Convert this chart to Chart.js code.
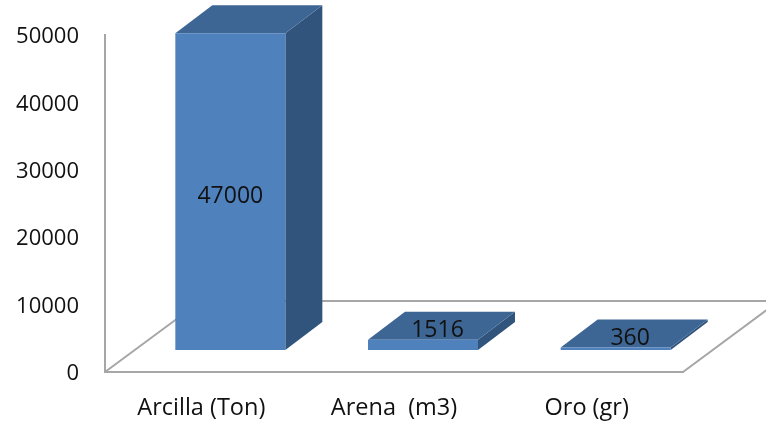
<!DOCTYPE html>
<html lang="es">
<head>
<meta charset="utf-8">
<title>Producción</title>
<style>
  html, body { margin: 0; padding: 0; background: #fff; }
  canvas { display: block; }
</style>
<script src="https://cdn.jsdelivr.net/npm/chart.js@4"></script>
</head>
<body>
<canvas id="grafico" width="766" height="424"></canvas>
<script>
const categories = ['Arcilla (Ton)', 'Arena  (m3)', 'Oro (gr)'];
const values = [47000, 1516, 360];
const valueLabels = ['47000', '1516', '360'];
const yTicks = [0, 10000, 20000, 30000, 40000, 50000];

// perspectiva: desplazamiento del suelo y profundidad de las barras
const FLOOR = { dx: 96, dy: 71 };
const BAR_SHIFT = { dx: 29, dy: 22 };
const BAR_DEPTH = { dx: 37, dy: 28 };

const FONT_FAMILY = 'Open Sans';
const COL_TEXT = '#111';
const COL_FRONT = '#4F81BD';
const COL_TOP = '#3D6695';
const COL_SIDE = '#31547D';
const COL_AXIS = '#A6A6A6';

function poly(ctx, pts, fill) {
    ctx.beginPath();
    pts.forEach((p, i) => i ? ctx.lineTo(p[0], p[1]) : ctx.moveTo(p[0], p[1]));
    ctx.closePath();
    ctx.fillStyle = fill;
    ctx.fill();
}

// suelo en perspectiva y caras superior/lateral de cada barra
const depthPlugin = {
    id: 'depth',
    beforeDatasetsDraw(chart) {
        const { ctx, chartArea: a } = chart;
        ctx.save();
        ctx.strokeStyle = COL_AXIS;
        ctx.lineWidth = 2;
        ctx.beginPath();
        ctx.moveTo(a.left, a.bottom);
        ctx.lineTo(a.left + FLOOR.dx, a.bottom - FLOOR.dy);
        ctx.moveTo(a.right, a.bottom);
        ctx.lineTo(a.right + FLOOR.dx, a.bottom - FLOOR.dy);
        ctx.moveTo(a.left + FLOOR.dx, a.bottom - FLOOR.dy);
        ctx.lineTo(a.right + FLOOR.dx, a.bottom - FLOOR.dy);
        ctx.stroke();

        chart.getDatasetMeta(0).data.forEach(bar => {
            const l = bar.x - bar.width / 2 + BAR_SHIFT.dx;
            const r = bar.x + bar.width / 2 + BAR_SHIFT.dx;
            const t = bar.y - BAR_SHIFT.dy;
            const b = bar.base - BAR_SHIFT.dy;
            const dx = BAR_DEPTH.dx, dy = BAR_DEPTH.dy;
            poly(ctx, [[r, t], [r + dx, t - dy], [r + dx, b - dy], [r, b]], COL_SIDE);
            poly(ctx, [[l, t], [l + dx, t - dy], [r + dx, t - dy], [r, t]], COL_TOP);
        });
        ctx.restore();
    },
    beforeDatasetDraw(chart) {
        chart.ctx.save();
        chart.ctx.translate(BAR_SHIFT.dx, -BAR_SHIFT.dy);
    },
    afterDatasetDraw(chart) {
        chart.ctx.restore();
    },
    // etiquetas de valor: en la cara frontal si cabe, si no en la superior
    afterDatasetsDraw(chart) {
        const { ctx } = chart;
        ctx.save();
        ctx.font = '23px "' + FONT_FAMILY + '"';
        ctx.fillStyle = COL_TEXT;
        ctx.textAlign = 'center';
        ctx.textBaseline = 'middle';
        chart.getDatasetMeta(0).data.forEach((bar, i) => {
            const h = bar.base - bar.y;
            let x = bar.x + BAR_SHIFT.dx;
            let y = bar.y - BAR_SHIFT.dy;
            if (h > 30) {
                y += h / 2 + 5;
            } else {
                x += BAR_DEPTH.dx / 2 - 4;
                y -= BAR_DEPTH.dy / 2 - 5;
            }
            ctx.fillText(valueLabels[i], x, y);
        });
        ctx.restore();
    }
};

new Chart(document.getElementById('grafico'), {
    type: 'bar',
    data: {
        labels: categories,
        datasets: [{
            data: values,
            backgroundColor: COL_FRONT,
            borderWidth: 0,
            categoryPercentage: 1,
            barPercentage: 0.571,
            clip: false
        }]
    },
    options: {
        responsive: false,
        animation: false,
        events: [],
        layout: { padding: { top: 35, right: 83, left: 0, bottom: 0 } },
        plugins: { legend: { display: false }, tooltip: { enabled: false } },
        scales: {
            x: {
                afterFit(scale) { scale.height = 52; },
                grid: { display: false },
                border: { color: COL_AXIS, width: 2 },
                ticks: { color: COL_TEXT, font: { family: FONT_FAMILY, size: 23.5 }, padding: 14, maxRotation: 0 }
            },
            y: {
                min: yTicks[0],
                max: yTicks[yTicks.length - 1],
                afterFit(scale) { scale.width = 105; },
                afterBuildTicks(scale) { scale.ticks = yTicks.map(value => ({ value })); },
                grid: { display: false },
                border: { color: COL_AXIS, width: 2 },
                ticks: {
                    color: COL_TEXT,
                    font: { family: FONT_FAMILY, size: 22 },
                    padding: 18,
                    labelOffset: 2,
                    callback: v => String(v)
                }
            }
        }
    },
    plugins: [depthPlugin]
});
</script>
</body>
</html>
